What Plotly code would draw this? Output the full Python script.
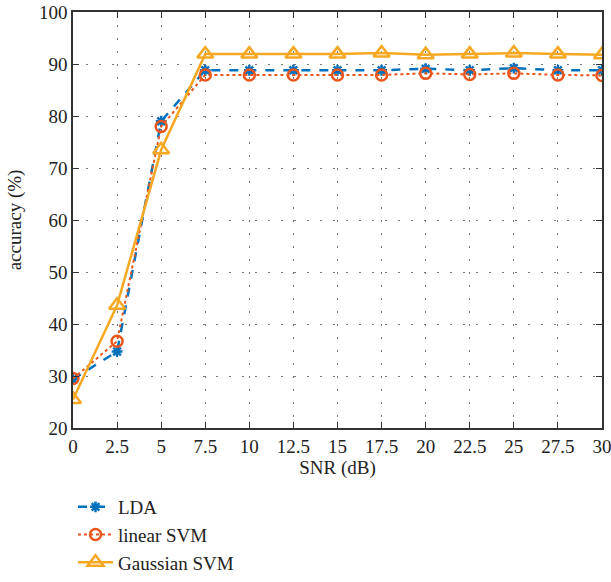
import plotly.graph_objects as go

# SNR sweep and classification accuracy per classifier
snr_db = [0, 2.5, 5, 7.5, 10, 12.5, 15, 17.5, 20, 22.5, 25, 27.5, 30]
lda_acc = [29.4, 34.7, 79.0, 88.8, 88.8, 88.8, 88.8, 88.8, 89.1, 88.8, 89.2, 88.8, 88.8]
linear_svm_acc = [29.5, 36.7, 78.0, 87.9, 87.9, 87.9, 87.9, 87.9, 88.2, 88.0, 88.2, 87.9, 87.8]
gaussian_svm_acc = [25.5, 43.6, 73.5, 91.9, 91.9, 91.9, 91.9, 92.1, 91.8, 91.9, 92.1, 91.9, 91.8]

x_ticks = [0, 2.5, 5, 7.5, 10, 12.5, 15, 17.5, 20, 22.5, 25, 27.5, 30]
x_tick_text = ["0", "2.5", "5", "7.5", "10", "12.5", "15", "17.5", "20", "22.5", "25", "27.5", "30"]
y_ticks = [20, 30, 40, 50, 60, 70, 80, 90, 100]

BLUE = "#0072BD"
RED = "#E8561E"
GOLD = "#F7A823"
FONT = "Liberation Serif"
TXT = "#222222"
FS = 19

fig = go.Figure()
fig.add_trace(go.Scatter(
    x=snr_db, y=lda_acc, name="LDA", mode="lines+markers",
    line=dict(color=BLUE, width=2.5, dash="dash"),
    marker=dict(symbol="asterisk-open", size=9, line=dict(color=BLUE, width=2.5)),
))
fig.add_trace(go.Scatter(
    x=snr_db, y=linear_svm_acc, name="linear SVM", mode="lines+markers",
    line=dict(color=RED, width=2, dash="dot"),
    marker=dict(symbol="circle-open", size=11, line=dict(color=RED, width=2.5)),
))
fig.add_trace(go.Scatter(
    x=snr_db, y=gaussian_svm_acc, name="Gaussian SVM", mode="lines+markers",
    line=dict(color=GOLD, width=2.5),
    marker=dict(symbol="triangle-up-open", size=14, line=dict(color=GOLD, width=2.5)),
))

axis_common = dict(
    showline=True, linecolor="#333333", linewidth=1.5, mirror="ticks",
    ticks="inside", ticklen=6, tickcolor="#333333", tickwidth=1,
    showgrid=True, gridcolor="#777777", griddash="2px,11px", gridwidth=1,
    zeroline=False, tickfont=dict(family=FONT, size=FS, color=TXT),
    ticklabeloverflow="allow", automargin=False,
)

# plot area occupies the upper part of the figure; legend sits underneath it
H, TOP, BOTTOM = 582, 12, 428
paper_h = H - TOP
y_domain_start = (H - BOTTOM) / paper_h

fig.update_xaxes(
    range=[0, 30], tickmode="array", tickvals=x_ticks, ticktext=x_tick_text,
    title=dict(text="SNR (dB)", font=dict(family=FONT, size=FS, color=TXT), standoff=4),
    **axis_common,
)
fig.update_yaxes(
    range=[20, 100], tickmode="array", tickvals=y_ticks, domain=[y_domain_start, 1],
    title=dict(text="accuracy (%)", font=dict(family=FONT, size=FS, color=TXT), standoff=12),
    **axis_common,
)

fig.update_layout(
    width=611, height=H,
    margin=dict(l=73, r=9, t=TOP, b=0),
    plot_bgcolor="white", paper_bgcolor="white",
    font=dict(family=FONT, size=FS, color=TXT),
    showlegend=True,
    legend=dict(
        x=0.0, y=0.0, xanchor="left", yanchor="bottom",
        bgcolor="rgba(0,0,0,0)", borderwidth=0,
        font=dict(family=FONT, size=FS, color=TXT),
        tracegroupgap=0, itemwidth=35,
    ),
)

fig.write_html("out.html")
